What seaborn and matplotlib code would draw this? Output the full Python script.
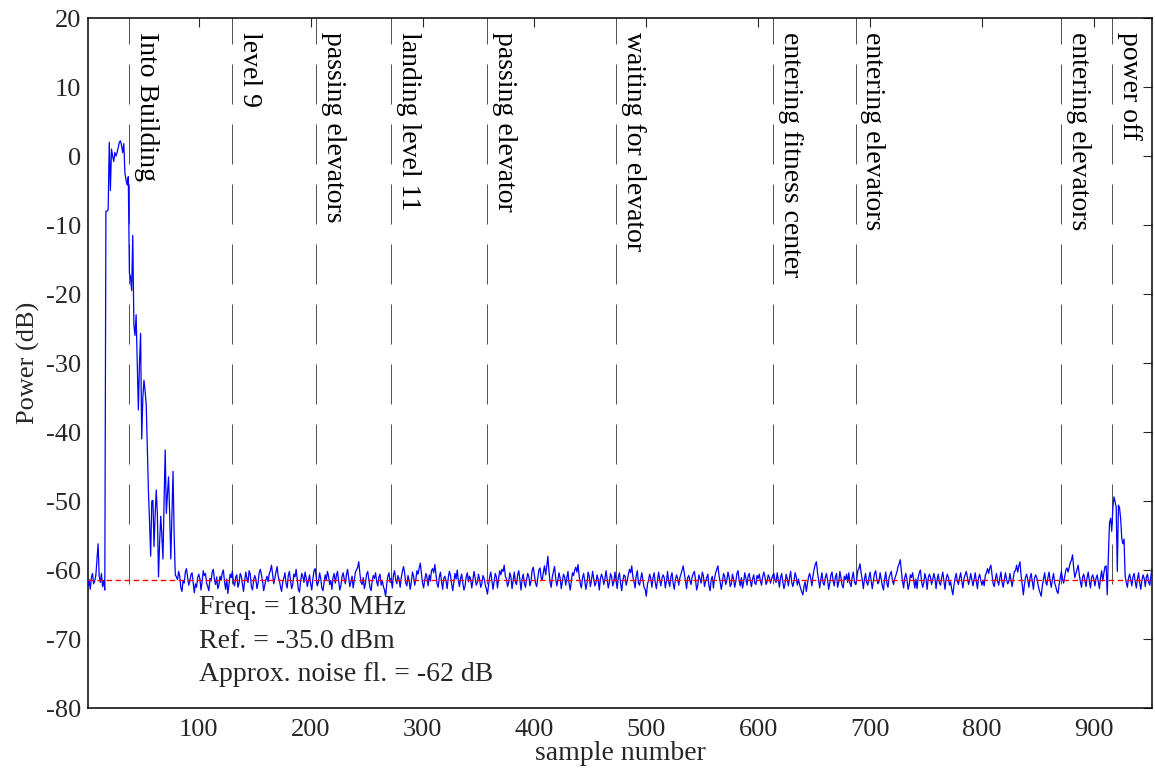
import numpy as np
import pandas as pd
import matplotlib
matplotlib.use("Agg")
import matplotlib.pyplot as plt
import seaborn as sns

# values, sample 1 .. 952
pre_rise = [-62.3, -61.4, -62.8, -61.1, -60.5, -62.0, -61.6, -60.8, -58.4, -56.2,
            -60.9, -61.8, -60.5, -62.4, -61.5, -62.9]
# samples 17..80, outdoor part and walking into the building
entry = [-8.0, -8.0, -7.8, 2.0, -5.0, 1.0, 0.0, -0.8, 0.5, 0.0,
         0.5, 1.2, 2.0, 2.2, 1.5, 0.5, 1.8, -2.5, -3.5, -4.2,
         -3.0, -17.0, -17.5, -19.5, -11.5, -24.5, -26.0, -23.0, -30.0, -36.8,
         -30.0, -25.7, -41.0, -35.0, -32.5, -34.0, -36.0, -42.0, -48.5, -53.0,
         -58.0, -50.0, -49.9, -56.6, -52.0, -48.4, -52.0, -61.0, -56.0, -52.2,
         -55.0, -58.4, -50.0, -42.6, -51.8, -49.0, -46.5, -52.0, -58.4, -52.0,
         -45.7, -55.0, -60.7, -61.0]
# samples 81..909, inside the building (noise floor), 20 per row
inside = [
    -61.4, -60.2, -60.9, -62.6, -63.1, -61.5, -61.9, -60.3, -59.8, -61.0, -62.2, -61.6, -60.7, -60.4, -61.8, -63.3, -62.0, -62.5, -61.1, -60.6,
    -61.3, -62.9, -61.7, -60.1, -60.8, -60.5, -61.9, -62.4, -63.0, -61.2, -61.6, -60.3, -59.9, -61.4, -62.1, -61.0, -62.7, -62.2, -60.9, -61.5,
    -60.4, -60.0, -61.7, -62.8, -61.3, -63.4, -62.1, -60.6, -61.1, -60.2, -61.8, -62.3, -61.0, -60.7, -62.5, -61.9, -60.5, -60.9, -62.0, -63.1,
    -61.6, -60.3, -61.2, -61.8, -60.1, -60.6, -62.4, -62.9, -61.5, -60.8, -61.3, -62.7, -61.9, -60.4, -59.9, -60.7, -61.6, -63.0, -62.2, -61.4,
    -60.9, -61.7, -60.5, -60.1, -59.3, -60.6, -62.0, -61.2, -60.3, -59.5, -60.9, -61.5, -62.4, -63.1, -61.8, -61.2, -60.4, -61.9, -62.6, -60.8,
    -60.2, -61.5, -62.7, -62.1, -60.6, -61.0, -59.9, -61.4, -62.8, -63.2, -61.7, -60.5, -60.9, -61.8, -60.3, -61.1, -62.4, -61.6, -60.7, -62.0,
    -62.9, -61.3, -60.1, -59.8, -61.0, -62.3, -61.7, -60.4, -61.2, -62.6, -63.0, -61.8, -60.7, -61.4, -60.2, -60.9, -62.1, -61.5, -62.8, -61.1,
    -60.5, -61.9, -60.8, -60.2, -61.6, -62.9, -62.3, -61.0, -60.4, -61.3, -62.0, -60.6, -59.9, -61.2, -62.4, -61.7, -60.9, -62.6, -61.4, -60.3,
    -60.0, -59.6, -58.8, -60.5, -61.8, -62.1, -61.1, -62.7, -61.9, -60.6, -60.2, -61.3, -62.5, -63.0, -61.6, -60.8, -61.2, -60.4, -61.7, -62.3,
    -61.0, -60.6, -62.2, -61.5, -62.4, -62.9, -63.8, -62.1, -60.9, -60.4, -61.8, -61.2, -62.6, -60.7, -60.1, -61.4, -62.0, -60.8, -61.3, -62.5,
    -61.1, -60.2, -59.5, -60.4, -61.9, -62.3, -60.8, -61.5, -62.8, -61.7, -60.3, -60.9, -62.2, -61.4, -60.1, -60.6, -59.7, -59.0, -60.5, -61.9,
    -62.6, -61.4, -60.5, -61.1, -62.3, -60.7, -61.6, -60.1, -59.8, -60.4, -59.2, -60.6, -62.0, -62.5, -61.0, -60.3, -61.7, -62.8, -61.2, -60.9,
    -61.6, -62.7, -61.1, -60.2, -60.8, -62.0, -63.0, -61.7, -60.5, -61.3, -60.0, -61.5, -62.4, -61.2, -60.6, -61.9, -62.9, -62.3, -61.0, -60.4,
    -61.7, -60.9, -61.3, -62.6, -61.5, -60.2, -61.1, -62.2, -61.8, -60.6, -61.4, -62.5, -62.0, -60.8, -61.2, -62.1, -62.7, -63.5, -62.3, -61.0,
    -60.3, -61.6, -62.8, -61.7, -60.5, -61.0, -62.6, -61.2, -60.1, -60.7, -59.9, -60.2, -59.3, -60.9, -61.3, -62.4, -61.8, -60.4, -61.0, -62.7,
    -61.5, -60.3, -61.8, -62.1, -60.7, -60.1, -61.4, -62.9, -61.3, -60.6, -61.9, -62.5, -61.4, -60.5, -60.9, -62.3, -61.6, -60.0, -59.6, -60.8,
    -61.9, -62.4, -61.2, -60.0, -59.7, -61.1, -61.5, -60.3, -59.4, -60.7, -59.5, -58.0, -60.2, -61.8, -62.5, -61.0, -60.2, -59.5, -61.2, -62.3,
    -61.4, -60.4, -61.2, -62.7, -61.6, -60.6, -61.0, -62.2, -61.1, -60.2, -62.0, -62.9, -61.7, -60.4, -60.8, -60.0, -59.6, -60.3, -59.2, -60.9,
    -62.0, -62.6, -61.1, -60.5, -61.6, -62.8, -61.9, -60.3, -60.9, -62.4, -61.5, -60.2, -61.2, -62.3, -61.9, -60.7, -61.4, -62.9, -61.2, -60.6,
    -61.1, -62.1, -61.3, -60.1, -61.3, -62.6, -61.8, -60.5, -61.0, -62.3, -61.7, -60.3, -61.6, -62.7, -61.0, -60.4, -61.9, -63.0, -61.6, -60.7,
    -60.9, -62.2, -61.5, -60.6, -59.9, -60.4, -59.4, -61.0, -61.7, -62.6, -60.8, -60.1, -61.9, -62.2, -61.3, -60.4, -61.5, -62.5, -62.8, -63.8,
    -62.1, -61.5, -60.6, -61.2, -62.5, -61.1, -60.4, -61.8, -62.7, -61.5, -60.3, -61.4, -62.3, -61.2, -60.7, -61.1, -62.6, -61.6, -60.2, -61.7,
    -62.4, -61.0, -60.4, -61.9, -62.8, -61.4, -60.7, -61.2, -62.2, -61.1, -60.6, -60.0, -59.4, -60.5, -61.7, -62.7, -61.1, -60.8, -61.5, -62.1,
    -61.0, -60.5, -60.2, -61.4, -62.9, -62.2, -60.7, -61.3, -61.9, -60.3, -60.8, -62.4, -61.7, -61.1, -60.6, -62.3, -63.0, -61.4, -60.9, -62.6,
    -61.2, -60.4, -59.9, -59.4, -60.8, -61.7, -62.8, -61.9, -60.5, -60.9, -62.1, -61.5, -60.3, -61.0, -62.4, -62.0, -60.6, -61.3, -62.5, -61.7,
    -60.5, -60.1, -61.5, -62.3, -61.1, -62.6, -61.8, -60.4, -61.2, -62.2, -60.9, -60.5, -61.6, -62.4, -61.3, -60.7, -61.9, -62.1, -60.8, -61.2,
    -60.6, -61.6, -62.2, -61.0, -60.3, -60.9, -62.1, -61.7, -60.7, -61.1, -61.9, -61.3, -60.8, -60.5, -61.5, -61.8, -60.4, -61.4, -62.5, -61.1,
    -60.5, -61.7, -62.7, -62.0, -60.6, -61.3, -62.3, -61.1, -60.2, -61.8, -62.4, -61.6, -60.4, -61.0, -62.2, -61.3, -62.1, -62.7, -63.2, -63.6,
    -62.3, -61.7, -63.1, -62.1, -61.0, -60.5, -61.2, -62.3, -60.8, -59.9, -59.2, -58.8, -60.3, -61.5, -62.6, -61.3, -60.4, -61.9, -62.2, -61.1,
    -60.5, -61.4, -62.8, -61.9, -60.7, -60.3, -61.6, -62.3, -61.0, -60.5, -62.5, -61.8, -60.2, -61.1, -62.2, -62.6, -60.9, -61.4, -60.6, -61.8,
    -60.4, -61.9, -62.4, -61.1, -60.3, -61.7, -62.1, -61.4, -60.1, -59.8, -59.1, -60.4, -61.4, -62.7, -61.3, -60.5, -61.8, -62.2, -61.1, -60.3,
    -61.6, -62.7, -61.5, -60.5, -60.1, -61.2, -62.0, -61.7, -60.4, -61.4, -62.3, -62.9, -61.3, -60.3, -61.9, -62.5, -61.1, -60.6, -60.2, -61.5,
    -62.1, -61.3, -60.8, -60.3, -59.5, -59.1, -58.5, -60.2, -61.6, -62.6, -61.1, -60.5, -61.4, -62.8, -62.1, -60.7, -61.1, -60.4, -61.5, -62.6,
    -61.3, -62.7, -61.1, -60.4, -60.0, -61.6, -62.5, -61.9, -60.5, -61.2, -62.8, -61.2, -60.6, -61.0, -62.1, -61.4, -60.5, -61.2, -62.7, -61.3,
    -60.6, -61.9, -62.2, -61.1, -60.3, -61.5, -62.8, -61.3, -60.6, -61.1, -62.2, -61.7, -62.8, -63.6, -62.2, -61.2, -60.5, -61.6, -62.1, -61.1,
    -60.4, -61.6, -62.6, -61.2, -60.7, -60.2, -61.0, -62.1, -61.5, -60.5, -61.4, -62.3, -61.3, -60.4, -61.7, -62.7, -61.1, -60.6, -61.5, -62.2,
    -61.5, -62.3, -60.8, -60.4, -59.8, -60.5, -59.7, -59.3, -60.7, -62.0, -62.4, -61.3, -60.5, -61.6, -62.2, -61.1, -60.3, -61.8, -62.5, -61.4,
    -60.4, -61.3, -62.0, -61.7, -60.5, -61.5, -62.4, -61.2, -60.2, -60.1, -59.3, -60.3, -59.4, -58.8, -60.8, -62.1, -63.6, -62.1, -61.0, -60.6,
    -61.5, -62.5, -61.1, -60.5, -61.7, -62.8, -61.2, -60.7, -61.1, -62.0, -62.8, -63.3, -63.8, -62.3, -61.3, -60.4, -61.7, -62.2, -61.1, -60.3,
    -61.6, -62.5, -61.3, -60.5, -61.9, -62.4, -63.1, -63.4, -62.1, -61.1, -60.2, -61.3, -61.9, -60.9, -60.0, -59.7, -60.3, -59.6, -58.9, -58.6,
    -57.8, -59.7, -61.1, -60.5, -59.9, -59.3, -60.7, -61.7, -62.5, -61.0, -60.6, -61.5, -62.4, -61.1, -60.3, -61.6, -62.6, -61.1, -60.7, -61.3,
    -62.3, -61.2, -60.7, -61.7, -62.7, -61.1, -60.1, -61.6, -60.4,
]
# samples 910..928, power off bump
power_off = [-59.5, -59.4, -63.6, -58.0, -53.2, -52.5, -54.4, -51.0, -49.4, -50.1,
             -50.9, -60.2, -50.6, -51.0, -52.6, -55.5, -56.2, -55.5, -60.9]
# samples 929..952
tail = [-61.8, -62.5, -61.2, -60.6, -61.4, -62.3, -61.0, -60.5, -61.7, -62.6,
        -61.3, -60.4, -61.9, -62.8, -61.5, -60.7, -61.2, -62.4, -61.0, -60.6,
        -61.8, -62.2, -60.9, -59.8]

noise_floor = -61.5

event_x = [38, 130, 205, 272, 358, 473, 613, 687, 871, 916]
event_labels = ["Into Building", "level 9", "passing elevators", "landing level 11",
                "passing elevator", "waiting for elevator", "entering fitness center",
                "entering elevators", "entering elevators", "power off"]

info_lines = ["Freq. = 1830 MHz", "Ref. = -35.0 dBm", "Approx. noise fl. = -62 dB"]
info_y = [-65.4, -70.3, -75.2]

power = pre_rise + entry + inside + power_off + tail
df = pd.DataFrame({"sample": np.arange(1, len(power) + 1), "power": power})

sns.set_style("white")
plt.rcParams["font.family"] = ["Liberation Serif", "DejaVu Serif"]
plt.rcParams["axes.unicode_minus"] = False
plt.rcParams["font.size"] = 19

fig = plt.figure(figsize=(11.55, 7.7), dpi=100)
ax = fig.add_axes([0.0762, 0.0805, 0.9212, 0.8961])

sns.lineplot(data=df, x="sample", y="power", color="#0000ff", lw=0.9,
             estimator=None, ax=ax, zorder=3)
ax.axhline(noise_floor, color="#ff0000", lw=1.0, ls=(0, (4, 2.5)), zorder=4)

for xe, lab in zip(event_x, event_labels):
    ax.vlines(xe, -62, 20, colors="#555555", lw=0.72, linestyles=[(0, (40, 20))], zorder=2)
    ax.annotate(lab, (xe, 20), xytext=(3.5, -10), textcoords="offset points",
                rotation=270, ha="left", va="top", fontsize=20, color="black")

for txt, yy in zip(info_lines, info_y):
    ax.text(100, yy, txt, ha="left", va="center", fontsize=20)

ax.set_xlim(1, 952)
ax.set_ylim(-80, 20)
ax.set_xticks(range(100, 901, 100))
ax.set_yticks(range(-80, 21, 10))
ax.tick_params(direction="in", length=6.5, width=0.8, top=True, right=True,
               labelsize=19)
ax.tick_params(axis="x", pad=8)
ax.tick_params(axis="y", pad=5)
for sp in ax.spines.values():
    sp.set_linewidth(1.1)
    sp.set_color("black")
ax.set_xlabel("sample number", fontsize=20, labelpad=0)
ax.set_ylabel("Power (dB)", fontsize=19, labelpad=4)

fig.savefig("out.png", dpi=100)
